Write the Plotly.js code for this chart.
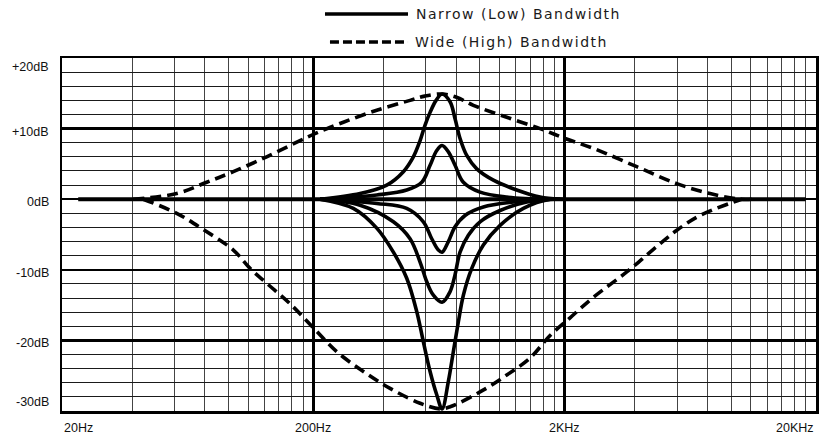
<!DOCTYPE html>
<html>
<head>
<meta charset="utf-8">
<script src="https://cdn.plot.ly/plotly-3.0.1.min.js"></script>
<style>
html, body { margin: 0; padding: 0; background: #ffffff; }
#chart { width: 823px; height: 437px; }
.annotation[data-index="0"] text, .annotation[data-index="1"] text { letter-spacing: 1.5px; }
</style>
</head>
<body>
<div id="chart"></div>
<script>
// ---- Data (frequency in Hz, gain in dB) ----
const seriesNames = ['Narrow (Low) Bandwidth', 'Wide (High) Bandwidth'];

const narrowFlatFreq = [23.2, 18200];
const narrowFlatGain = [0, 0];

const narrowP15Freq = [212.7, 306.9, 391.9, 456.3, 500, 531.8, 556.7, 582.8, 615.7, 650.5, 699.9, 732.7, 767, 815.4, 893.8, 1040.8, 1289.5, 1596, 1917];
const narrowP15Gain = [0, 0.8, 2.0, 3.9, 6.0, 8.3, 10.5, 12.3, 14.0, 14.9, 13.8, 11.4, 8.6, 6.2, 4.3, 2.7, 1.3, 0.3, 0];

const narrowP7Freq = [212.7, 357.6, 470.6, 540.1, 582.8, 619.5, 650.5, 689.1, 732.7, 790.6, 921.3, 1176.6, 1749.4];
const narrowP7Gain = [0, 0.6, 1.3, 2.4, 4.8, 6.9, 7.6, 6.7, 4.8, 2.4, 1.0, 0.3, 0];

const narrowM7Freq = [212.7, 357.6, 470.6, 548.1, 591.8, 628.7, 650.5, 689.1, 732.7, 802.6, 949.5, 1249.9, 1749.4];
const narrowM7Gain = [0, -0.6, -1.3, -3.2, -5.6, -7.2, -7.5, -6.0, -3.9, -2.3, -1.1, -0.4, 0];

const narrowM15Freq = [212.7, 306.9, 416.4, 485.1, 531.8, 565.4, 600.6, 650.5, 699.9, 732.7, 767, 827.6, 921.3, 1106.8, 1413.4, 1798.3];
const narrowM15Gain = [0, -0.85, -3.2, -5.6, -8.9, -11.7, -13.6, -14.6, -13.1, -10.7, -7.5, -5.1, -3.2, -1.6, -0.4, 0];

const narrowM30Freq = [212.7, 288.5, 357.6, 416.4, 470.6, 515.7, 548.1, 582.8, 619.5, 650.5, 689.1, 721.2, 755.1, 790.6, 853.8, 949.5, 1106.8, 1369.9, 1749.4, 1970.9];
const narrowM30Gain = [0, -1.3, -4.1, -7.5, -11.2, -15.9, -20.2, -24.4, -27.7, -29.7, -25.8, -21.6, -17.4, -13.6, -9.8, -6.5, -3.7, -1.3, 0, 0];

const wideP15Freq = [38.4, 57.2, 75.3, 96.1, 130.4, 177.0, 206.3, 263.3, 357.6, 485.1, 555, 650.5, 747, 866.4, 1176.6, 1596, 2007, 2601, 3871, 5586, 7579, 9977, 11106];
const wideP15Gain = [0, 0.8, 2.4, 3.9, 6.0, 8.3, 9.4, 10.9, 12.6, 14.0, 14.6, 14.9, 14.4, 13.3, 11.6, 10.0, 8.6, 7.2, 4.6, 2.2, 0.8, 0, 0];

const wideM30Freq = [42.1, 57.2, 73.0, 96.1, 112.0, 130.4, 161.5, 200, 247.8, 316.3, 403.9, 531.8, 638.6, 699.9, 921.3, 1176.6, 1456.7, 1749.4, 2101, 2601, 3533, 4508, 5586, 6916, 9383, 10134];
const wideM30Gain = [0, -2.0, -4.3, -7.2, -9.8, -11.9, -14.8, -18.2, -21.6, -24.4, -26.8, -28.9, -29.7, -29.4, -27.3, -24.9, -22.5, -19.3, -16.8, -13.9, -10.3, -7.1, -4.4, -2.3, -0.4, 0];

// ---- Axis ticks ----
const xMajor = [20, 200, 2000, 20000];
const xTickText = ['20Hz', '200Hz', '2KHz', '20KHz'];
const xMinor = [38, 56, 74, 92, 110, 128, 146, 164, 182,
                380, 560, 740, 920, 1100, 1280, 1460, 1640, 1820,
                3800, 5600, 7400, 9200, 11000, 12800, 14600, 16400, 18200];
const yMajor = [-30, -20, -10, 0, 10, 20];
const yTickText = ['-30dB', '-20dB', '-10dB', '0dB', '+10dB', '+20dB'];
const yMinor = [-28, -26, -24, -22, -18, -16, -14, -12, -8, -6, -4, -2, 2, 4, 6, 8, 12, 14, 16, 18];

// ---- Styles ----
const solidLine = { color: '#000000', width: 3.6, shape: 'spline', smoothing: 1 };
const dashLine = { color: '#000000', width: 3.6, shape: 'spline', smoothing: 1, dash: '11px,6px' };

function tr(x, y, line, name) {
  return { type: 'scatter', mode: 'lines', x: x, y: y, line: line, name: name,
           showlegend: false, hoverinfo: 'skip' };
}

const data = [
  tr(narrowFlatFreq, narrowFlatGain, Object.assign({}, solidLine, { width: 4 }), seriesNames[0]),
  tr(wideP15Freq, wideP15Gain, dashLine, seriesNames[1]),
  tr(wideM30Freq, wideM30Gain, dashLine, seriesNames[1]),
  tr(narrowP15Freq, narrowP15Gain, solidLine, seriesNames[0]),
  tr(narrowP7Freq, narrowP7Gain, solidLine, seriesNames[0]),
  tr(narrowM7Freq, narrowM7Gain, solidLine, seriesNames[0]),
  tr(narrowM15Freq, narrowM15Gain, solidLine, seriesNames[0]),
  tr(narrowM30Freq, narrowM30Gain, solidLine, seriesNames[0])
];

const labelFont = { family: 'Liberation Sans, Arial, sans-serif', size: 12.5, color: '#111111' };
const legendFont = { family: 'DejaVu Sans, sans-serif', size: 14, color: '#1a1a1a' };

const annotations = [];
// legend texts (indices 0,1)
annotations.push({ xref: 'paper', yref: 'paper', x: 0.4668, y: 1.1246, xanchor: 'left', yanchor: 'middle', align: 'left',
                   text: seriesNames[0], showarrow: false, font: legendFont });
annotations.push({ xref: 'paper', yref: 'paper', x: 0.4655, y: 1.0453, xanchor: 'left', yanchor: 'middle', align: 'left',
                   text: seriesNames[1], showarrow: false, font: legendFont });
// x tick labels
xMajor.forEach(function (v, i) {
  const last = xMajor.length - 1;
  annotations.push({ xref: 'x', yref: 'paper', x: Math.log10(v), y: 0, yanchor: 'middle', yshift: -16.5,
                     xanchor: i === 0 ? 'left' : (i === last ? 'right' : 'center'),
                     text: xTickText[i], showarrow: false, font: labelFont });
});
// y tick labels
yMajor.forEach(function (v, i) {
  const last = yMajor.length - 1;
  annotations.push({ xref: 'paper', yref: 'y', x: 0, y: v, xanchor: 'right', xshift: -11,
                     yanchor: i === 0 ? 'bottom' : (i === last ? 'top' : 'middle'),
                     yshift: (i === 0 || i === last) ? 0 : -3,
                     text: yTickText[i], showarrow: false, font: labelFont });
});

const shapes = [
  { type: 'line', xref: 'paper', yref: 'paper', x0: 0.3488, x1: 0.4589, y0: 1.1246, y1: 1.1246,
    line: { color: '#000000', width: 3.4 } },
  { type: 'line', xref: 'paper', yref: 'paper', x0: 0.3554, x1: 0.4589, y0: 1.0453, y1: 1.0453,
    line: { color: '#000000', width: 3.4, dash: '9px,4px' } }
];

const layout = {
  width: 823, height: 437,
  margin: { l: 62, r: 7, t: 58, b: 26, pad: 0 },
  paper_bgcolor: '#ffffff', plot_bgcolor: '#ffffff',
  showlegend: false,
  xaxis: {
    type: 'log', range: [Math.log10(20), Math.log10(20000)],
    tickmode: 'array', tickvals: xMajor, showticklabels: false, ticks: '',
    showgrid: true, gridcolor: '#000000', gridwidth: 2.5,
    showline: true, mirror: true, linecolor: '#000000', linewidth: 2.5,
    zeroline: false, fixedrange: true,
    minor: { tickmode: 'array', tickvals: xMinor, showgrid: true, gridcolor: '#444444', gridwidth: 1, ticks: '' }
  },
  yaxis: {
    range: [-30, 20],
    tickmode: 'array', tickvals: yMajor, showticklabels: false, ticks: '',
    showgrid: true, gridcolor: '#000000', gridwidth: 2.5,
    showline: true, mirror: true, linecolor: '#000000', linewidth: 2.5,
    zeroline: false, fixedrange: true,
    minor: { tickmode: 'array', tickvals: yMinor, showgrid: true, gridcolor: '#1a1a1a', gridwidth: 1, ticks: '' }
  },
  annotations: annotations,
  shapes: shapes
};

Plotly.newPlot('chart', data, layout, { displayModeBar: false, staticPlot: true });
</script>
</body>
</html>
